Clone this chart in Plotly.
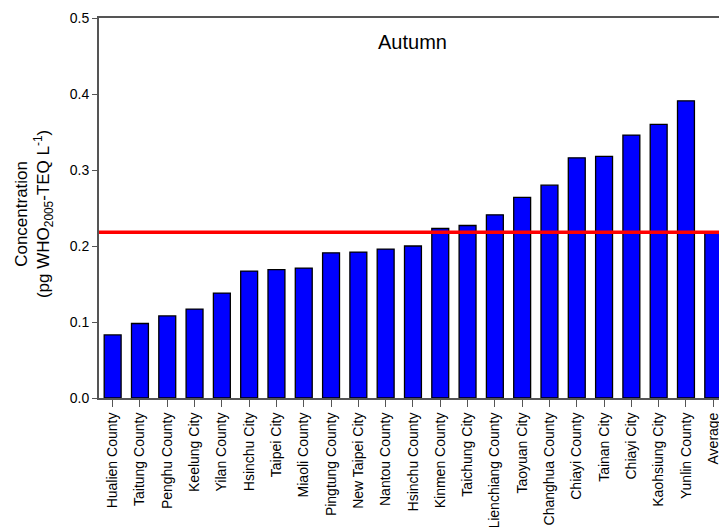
import plotly.graph_objects as go

# Autumn PCDD/F concentrations by region, sorted ascending, plus the overall average
regions = [
    "Hualien County", "Taitung County", "Penghu County", "Keelung City",
    "Yilan County", "Hsinchu City", "Taipei City", "Miaoli County",
    "Pingtung County", "New Taipei City", "Nantou County", "Hsinchu County",
    "Kinmen County", "Taichung City", "Lienchiang County", "Taoyuan City",
    "Changhua County", "Chiayi County", "Tainan City", "Chiayi City",
    "Kaohsiung City", "Yunlin County", "Average",
]
concentration = [
    0.083, 0.098, 0.108, 0.117,
    0.138, 0.167, 0.169, 0.171,
    0.191, 0.192, 0.196, 0.200,
    0.223, 0.227, 0.241, 0.264,
    0.280, 0.316, 0.318, 0.346,
    0.360, 0.391, 0.218,
]
average_value = concentration[-1]

y_ticks = [0.0, 0.1, 0.2, 0.3, 0.4, 0.5]
y_tick_text = ["0.0", "0.1", "0.2", "0.3", "0.4", "0.5"]

FONT = "Arial, Liberation Sans, sans-serif"
AXIS_GREY = "#555555"

fig = go.Figure()
fig.add_trace(go.Bar(
    x=list(range(len(regions))),
    y=concentration,
    width=0.62,
    marker=dict(color="#0000ff", line=dict(color="#000000", width=1.3)),
    hoverinfo="x+y",
))

# Average reference line across the full plot width
fig.add_shape(
    type="line", xref="x domain", yref="y",
    x0=0, x1=1, y0=average_value, y1=average_value,
    line=dict(color="#ff0000", width=3.5), layer="above",
)

fig.add_annotation(
    text="Autumn", xref="paper", yref="paper", x=0.505, y=0.937,
    xanchor="center", yanchor="middle", showarrow=False,
    font=dict(family=FONT, size=20, color="#000000"),
)

fig.add_annotation(
    text="Concentration<br>(pg WHO<sub>2005</sub>-TEQ L<sup>-1</sup>)",
    xref="paper", yref="paper", x=0, xshift=-65, y=0.484,
    xanchor="center", yanchor="middle", textangle=-90, showarrow=False,
    font=dict(family=FONT, size=17, color="#000000"),
)

fig.update_layout(
    width=719, height=527,
    margin=dict(l=99, r=0, t=18, b=129, autoexpand=False),
    paper_bgcolor="white", plot_bgcolor="white",
    showlegend=False,
    font=dict(family=FONT, color="#000000"),
    xaxis=dict(
        range=[-0.5, 22.21],
        tickmode="array",
        tickvals=list(range(len(regions))),
        ticktext=regions,
        tickangle=-90,
        tickfont=dict(family=FONT, size=14, color="#000000"),
        ticklabeloverflow="allow",
        ticks="outside", ticklen=7, tickwidth=1.3, tickcolor=AXIS_GREY,
        showline=True, linecolor=AXIS_GREY, linewidth=2, mirror=True,
        showgrid=False, zeroline=False, automargin=False,
    ),
    yaxis=dict(
        range=[0, 0.5],
        tickmode="array", tickvals=y_ticks, ticktext=y_tick_text,
        tickfont=dict(family=FONT, size=14, color="#000000"),
        ticks="outside", ticklen=5, tickwidth=1.3, tickcolor=AXIS_GREY,
        showline=True, linecolor=AXIS_GREY, linewidth=2,
        showgrid=False, zeroline=False, automargin=False,
    ),
)

fig.write_html("out.html")
